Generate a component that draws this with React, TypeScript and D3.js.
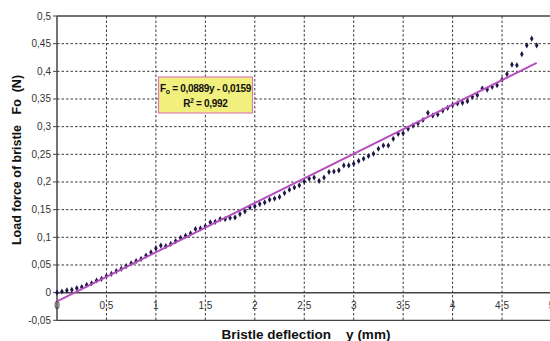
import * as d3 from 'd3';

// bristle deflection y (mm)
const deflection = [
  0.0, 0.05, 0.1, 0.15, 0.2, 0.25, 0.3, 0.35, 0.4, 0.45,
  0.5, 0.55, 0.6, 0.65, 0.7, 0.75, 0.8, 0.85, 0.9, 0.95,
  1.0, 1.05, 1.1, 1.15, 1.2, 1.25, 1.3, 1.35, 1.4, 1.45,
  1.5, 1.55, 1.6, 1.65, 1.7, 1.75, 1.8, 1.85, 1.9, 1.95,
  2.0, 2.05, 2.1, 2.15, 2.2, 2.25, 2.3, 2.35, 2.4, 2.45,
  2.5, 2.55, 2.6, 2.65, 2.7, 2.75, 2.8, 2.85, 2.9, 2.95,
  3.0, 3.05, 3.1, 3.15, 3.2, 3.25, 3.3, 3.35, 3.4, 3.45,
  3.5, 3.55, 3.6, 3.65, 3.7, 3.75, 3.8, 3.85, 3.9, 3.95,
  4.0, 4.05, 4.1, 4.15, 4.2, 4.25, 4.3, 4.35, 4.4, 4.45,
  4.5, 4.55, 4.6, 4.65, 4.7, 4.75, 4.8, 4.85,
];

// load force of bristle Fo (N)
const force = [
  0.0, 0.002, 0.004, 0.005, 0.008, 0.01, 0.014, 0.017, 0.022, 0.025,
  0.03, 0.034, 0.039, 0.043, 0.048, 0.053, 0.057, 0.061, 0.067, 0.073,
  0.08, 0.085, 0.084, 0.088, 0.093, 0.099, 0.103, 0.107, 0.115, 0.116,
  0.12, 0.127, 0.128, 0.133, 0.133, 0.135, 0.136, 0.142, 0.147, 0.154,
  0.156, 0.16, 0.163, 0.168, 0.17, 0.173, 0.18, 0.186, 0.19, 0.194,
  0.201, 0.206, 0.208, 0.202, 0.208, 0.218, 0.219, 0.221, 0.23, 0.23,
  0.233, 0.238, 0.242, 0.247, 0.251, 0.26, 0.266, 0.266, 0.278, 0.287,
  0.288, 0.296, 0.302, 0.306, 0.312, 0.325, 0.32, 0.322, 0.329, 0.334,
  0.339, 0.342, 0.343, 0.346, 0.354, 0.357, 0.369, 0.367, 0.372, 0.375,
  0.385, 0.395, 0.412, 0.411, 0.431, 0.447, 0.459, 0.447,
];

// linear trend: Fo = 0,0889y - 0,0159
const trendSlope = 0.0889;
const trendIntercept = -0.0159;
const trendRange = [0, 4.85];

const xTicks = [0, 0.5, 1, 1.5, 2, 2.5, 3, 3.5, 4, 4.5, 5];
const yTicks = [-0.05, 0, 0.05, 0.1, 0.15, 0.2, 0.25, 0.3, 0.35, 0.4, 0.45, 0.5];

const W = 550;
const H = 341;
const left = 57;
const right = 551.5;
const top = 16;
const bottom = 320.3;

const fmt = (v: number) => String(+v.toFixed(2)).replace('.', ',');

export default function App() {
  const x = d3.scaleLinear().domain([0, 5]).range([left, right]);
  const y = d3.scaleLinear().domain([-0.05, 0.5]).range([bottom, top]);

  const points = deflection.map((d, i) => ({ d, f: force[i] }));
  const diamond = d3.symbol().type(d3.symbolDiamond).size(11)();
  const trend = d3.line<number>()
    .x(v => x(v))
    .y(v => y(trendSlope * v + trendIntercept))(trendRange);

  const font = 'Liberation Sans, Arial, sans-serif';
  const gridCol = '#3a3a3a';

  return (
    <svg width={W} height={H} style={{ position: 'absolute', left: 0, top: 0 }} fontFamily={font}>
      <rect width={W} height={H} fill="#fff" />

      {/* horizontal grid */}
      {yTicks.filter(t => t > 0 && t < 0.5).map(t => (
        <line key={'hy' + t} x1={left} x2={right} y1={y(t)} y2={y(t)}
          stroke={gridCol} strokeWidth={1} strokeDasharray="2.5,2" />
      ))}
      {/* vertical grid */}
      {xTicks.filter(t => t > 0 && t < 5).map(t => (
        <line key={'vx' + t} x1={x(t)} x2={x(t)} y1={top} y2={bottom}
          stroke={gridCol} strokeWidth={1} strokeDasharray="2.5,2" />
      ))}

      {/* frame and axes */}
      <line x1={left} x2={right} y1={top} y2={top} stroke="#444" strokeWidth={1.3} />
      <line x1={left} x2={right} y1={bottom} y2={bottom} stroke="#444" strokeWidth={1.3} />
      <line x1={left} x2={right} y1={y(0)} y2={y(0)} stroke="#444" strokeWidth={1.5} />
      <line x1={left} x2={left} y1={top} y2={bottom} stroke="#444" strokeWidth={1.5} />

      {yTicks.map(t => (
        <g key={'yt' + t}>
          <line x1={left - 4} x2={left} y1={y(t)} y2={y(t)} stroke="#444" strokeWidth={1} />
          <text x={left - 6} y={y(t)} dy="0.35em" textAnchor="end" fontSize={10} fill="#333">{fmt(t)}</text>
        </g>
      ))}
      {xTicks.map(t => (
        <text key={'xt' + t} x={x(t)} y={y(0) + 16} textAnchor="middle" fontSize={10} fill="#333">{fmt(t)}</text>
      ))}

      {/* data */}
      {points.map((p, i) => (
        <path key={i} d={diamond} transform={`translate(${x(p.d)},${y(p.f)})`} fill="#1e1746" />
      ))}

      <path d={trend ?? ''} fill="none" stroke="#b54fbf" strokeWidth={2} />

      {/* equation box */}
      <rect x={158.5} y={77} width={94} height={36} fill="#f1ef7d" stroke="#e07cb4" strokeWidth={1.2} />
      <text x={205.5} y={92} textAnchor="middle" fontSize={10} fontWeight="bold" fill="#111" letterSpacing={-0.3}>
        F<tspan fontSize={7} dy={2}>o</tspan><tspan dy={-2}> = 0,0889y - 0,0159</tspan>
      </text>
      <text x={205.5} y={107} textAnchor="middle" fontSize={10} fontWeight="bold" fill="#111" letterSpacing={-0.3}>
        R<tspan fontSize={6.5} dy={-4}>2</tspan><tspan dy={4}> = 0,992</tspan>
      </text>

      {/* axis titles */}
      <text transform={`translate(21,160) rotate(-90)`} textAnchor="middle" fontSize={12.5} fontWeight="bold" fill="#111" xmlSpace="preserve">
        Load force of bristle   Fo  (N)
      </text>
      <text x={306} y={339} textAnchor="middle" fontSize={13.5} fontWeight="bold" fill="#111" xmlSpace="preserve">
        Bristle deflection    y (mm)
      </text>
    </svg>
  );
}
